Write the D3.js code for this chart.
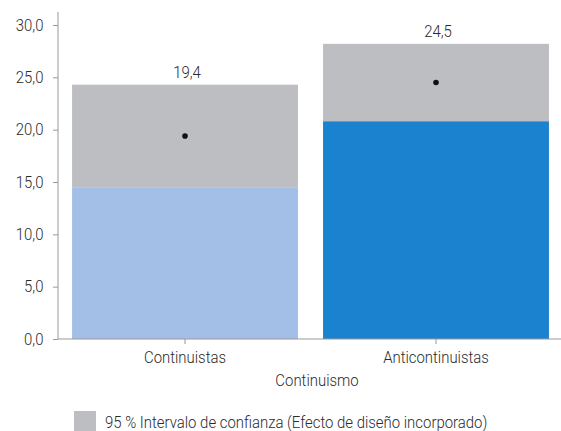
<!DOCTYPE html>
<html lang="es">
<head>
<meta charset="UTF-8">
<title>Continuismo</title>
<script src="https://cdn.jsdelivr.net/npm/d3@7"></script>
<style>
  body { margin: 0; background: #fff; }
  svg text {
    font-family: Roboto, "Liberation Sans", Arial, sans-serif;
    font-weight: 300;
    font-size: 16.5px;
    fill: #2b2b2b;
    transform-box: fill-box;
    transform: scaleX(0.905);
  }
  .mid { transform-origin: center; }
  .end { transform-origin: right; }
  .start { transform-origin: left; }
</style>
</head>
<body>
<div id="chart"></div>
<script>
const categories = ["Continuistas", "Anticontinuistas"];
const lowerValues = [14.5, 20.8];   // lower bound of interval
const upperValues = [24.3, 28.2];   // upper bound of interval
const pointValues = [19.4, 24.5];
const yTicks = [0, 5, 10, 15, 20, 25, 30];
const barColors = ["#a3bfe8", "#1b82cf"];
const ciColor = "#bdbec2";

const width = 561, height = 431;
const svg = d3.select("#chart").append("svg")
    .attr("width", width)
    .attr("height", height);

const x = d3.scaleBand()
    .domain(categories)
    .range([59.5, 561.5])
    .paddingInner(0.1)
    .paddingOuter(0.05);

const y = d3.scaleLinear()
    .domain([0, 30])
    .range([339, 25]);

const fmt = d => d.toFixed(1).replace(".", ",");

// interval (grey) bars
svg.selectAll("rect.ci")
    .data(categories)
    .enter().append("rect")
    .attr("class", "ci")
    .attr("x", d => x(d))
    .attr("width", x.bandwidth())
    .attr("y", (d, i) => y(upperValues[i]))
    .attr("height", (d, i) => y(lowerValues[i]) - y(upperValues[i]))
    .attr("fill", ciColor);

// coloured base bars
svg.selectAll("rect.base")
    .data(categories)
    .enter().append("rect")
    .attr("class", "base")
    .attr("x", d => x(d))
    .attr("width", x.bandwidth())
    .attr("y", (d, i) => y(lowerValues[i]))
    .attr("height", (d, i) => y(0) - y(lowerValues[i]))
    .attr("fill", (d, i) => barColors[i]);

// points
svg.selectAll("circle.pt")
    .data(categories)
    .enter().append("circle")
    .attr("cx", d => x(d) + x.bandwidth() / 2)
    .attr("cy", (d, i) => y(pointValues[i]))
    .attr("r", 2.8)
    .attr("fill", "#111");

// value labels
svg.selectAll("text.val")
    .data(categories)
    .enter().append("text")
    .attr("class", "val mid")
    .attr("x", d => x(d) + x.bandwidth() / 2 + 2)
    .attr("y", (d, i) => y(upperValues[i]) - 7)
    .attr("text-anchor", "middle")
    .text((d, i) => fmt(pointValues[i]));

// y axis
const yAxis = svg.append("g")
    .attr("transform", "translate(58,0)")
    .call(d3.axisLeft(y).tickValues(yTicks).tickFormat(fmt).tickSize(5).tickSizeOuter(0));
yAxis.select(".domain").attr("d", "M0,12V339").attr("stroke", "#999");
yAxis.selectAll(".tick line").attr("stroke", "#999");
yAxis.selectAll(".tick text").attr("class", "end").attr("x", -14.5);
yAxis.attr("font-size", null).attr("font-family", null);

// x axis
const xAxis = svg.append("g")
    .attr("transform", "translate(0,339)")
    .call(d3.axisBottom(x).tickSize(5).tickSizeOuter(0));
xAxis.select(".domain").attr("d", "M58,0H561").attr("stroke", "#999");
xAxis.selectAll(".tick line").attr("stroke", "#999");
xAxis.selectAll(".tick text").attr("class", "mid").attr("y", 12);
xAxis.attr("font-size", null).attr("font-family", null);

svg.append("text")
    .attr("class", "mid")
    .attr("x", 317)
    .attr("y", 386)
    .attr("text-anchor", "middle")
    .text("Continuismo");

// legend
svg.append("rect")
    .attr("x", 74).attr("y", 411)
    .attr("width", 22).attr("height", 20)
    .attr("fill", ciColor);
svg.append("text")
    .attr("class", "start")
    .attr("x", 105).attr("y", 428)
    .text("95 % Intervalo de confianza (Efecto de diseño incorporado)");
</script>
</body>
</html>
